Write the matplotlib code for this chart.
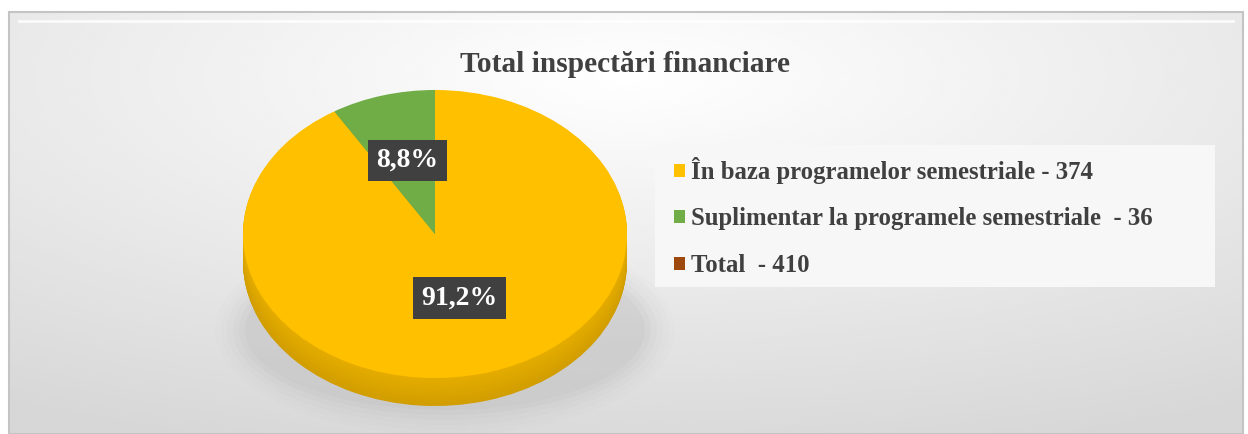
import numpy as np
import matplotlib
matplotlib.use("Agg")
import matplotlib.pyplot as plt
from matplotlib.patches import Rectangle, Ellipse
import matplotlib.colors as mcolors

# ---- data ----
title = "Total inspectări financiare"
categories = ["În baza programelor semestriale - 374",
              "Suplimentar la programele semestriale  - 36",
              "Total  - 410"]
values = [374, 36, 410]
pie_values = values[:2]
colors = ["#FFC000", "#70AD47", "#9E480E"]

W, H = 1248, 434
fig = plt.figure(figsize=(W / 100, H / 100), dpi=100)
fig.patch.set_facecolor("white")

# ---- background frame (pixel coordinates) ----
bg = fig.add_axes([0, 0, 1, 1])
bg.set_xlim(0, W)
bg.set_ylim(H, 0)
bg.axis("off")
x0, y0, x1, y1 = 9, 12, 1243, 434
yy, xx = np.mgrid[0:200, 0:600]
cx, cy = 300, 30
r = np.sqrt(((xx - cx) / 600.0) ** 2 + ((yy - cy) / 200.0) ** 2)
grad = np.clip(1.0 - 0.17 * r, 0.84, 1.0)
bg.imshow(grad, extent=(x0, x1, y1, y0), cmap="gray", vmin=0, vmax=1,
          aspect="auto", zorder=0, interpolation="bicubic")
bg.add_patch(Rectangle((x0, y0), x1 - x0, y1 - y0, fill=False,
                       ec="#C4C4C4", lw=1.5, zorder=1))
bg.plot([x0 + 10, x1 - 10], [y0 + 9, y0 + 9], color="white", lw=2,
        alpha=0.8, zorder=1)

# legend background box
bg.add_patch(Rectangle((655, 145), 560, 142, fc="#F7F7F7", ec="none", zorder=1))

# shadow under pie
for k, a in enumerate(np.linspace(0.05, 0.01, 6)):
    bg.add_patch(Ellipse((445, 330), 400 + 12 * k, 160 + 10 * k,
                         fc="#808080", ec="none", alpha=a, zorder=1))

bg.text(625, 64, title, ha="center", va="center", fontsize=21.2,
        fontweight="bold", family="Liberation Serif", color="#404040", zorder=3)

# ---- pie axes ----
px0, px1, ptop, pbot = 243, 627, 90, 406
rx = (px1 - px0) / 2
ry = 144.0
depth = (pbot - ptop - 2 * ry) / ry
ax = fig.add_axes([px0 / W, 1 - pbot / H, (px1 - px0) / W, (pbot - ptop) / H])
ax.set_zorder(2)
ax.axis("off")

def shade(c, f):
    rgb = np.array(mcolors.to_rgb(c))
    return tuple(rgb * f)

nsteps = 30
for i in range(nsteps, 0, -1):
    off = depth * i / nsteps
    f = 0.82 + 0.08 * (1 - i / nsteps)
    ax.pie(pie_values, colors=[shade(c, f) for c in colors[:2]],
           startangle=90, counterclock=False, center=(0, -off),
           wedgeprops=dict(linewidth=0), normalize=True)

wedges, _ = ax.pie(pie_values, colors=colors[:2], startangle=90,
                   counterclock=False, wedgeprops=dict(linewidth=0))
ax.set_aspect("auto")
ax.set_xlim(-1, 1)
ax.set_ylim(-1 - depth, 1)

total = sum(pie_values)
dists = [0.46, 0.53]
for w, v, d in zip(wedges, pie_values, dists):
    ang = np.deg2rad((w.theta1 + w.theta2) / 2)
    label = f"{100 * v / total:.1f}%".replace(".", ",")
    ax.text(d * np.cos(ang), d * np.sin(ang), label, ha="center", va="center",
            fontsize=20, fontweight="bold", family="Liberation Serif",
            color="white", zorder=10,
            bbox=dict(boxstyle="square,pad=0.3", fc="#404040", ec="none"))

# ---- legend ----
handles = [Rectangle((0, 0), 1, 1, fc=c, ec="none") for c in colors]
leg = fig.legend(handles, categories, loc="upper left",
                 bbox_to_anchor=(674 / W, 1 - 157 / H), frameon=False,
                 borderpad=0, borderaxespad=0,
                 prop=dict(family="Liberation Serif", weight="bold", size=17.8),
                 handlelength=0.45, handleheight=0.45, handletextpad=0.25,
                 labelspacing=0.95, labelcolor="#404040")

fig.savefig("out.png", dpi=100)
